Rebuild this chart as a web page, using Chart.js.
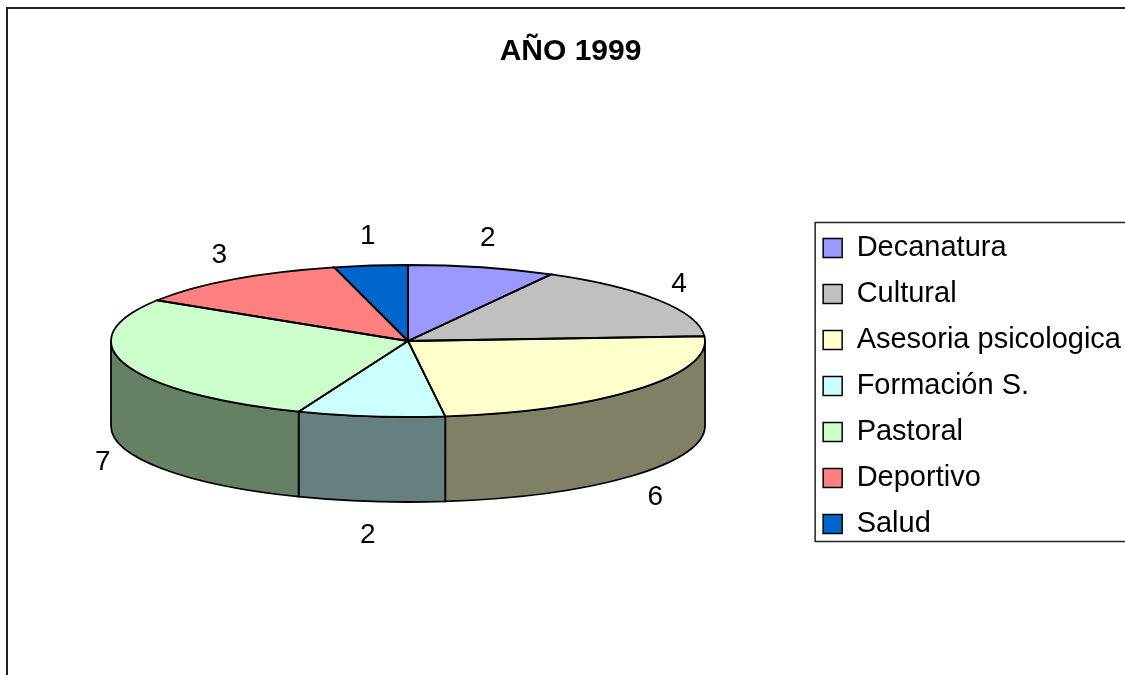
<!DOCTYPE html>
<html>
<head>
<meta charset="utf-8">
<script src="https://cdn.jsdelivr.net/npm/chart.js@4/dist/chart.umd.min.js"></script>
<style>
  html, body { margin: 0; padding: 0; background: #fff; }
</style>
</head>
<body>
<canvas id="grafico" width="1125" height="675"></canvas>
<script>
// datos del grafico
const categories = ["Decanatura", "Cultural", "Asesoria psicologica", "Formación S.", "Pastoral", "Deportivo", "Salud"];
const values = [2, 4, 6, 2, 7, 3, 1];
const colors = ["#9999FF", "#C0C0C0", "#FFFFCC", "#CCFFFF", "#CCFFCC", "#FF8080", "#0066CC"];
const sideColors = ["#4D4D80", "#606060", "#808066", "#668080", "#668066", "#804040", "#003366"];
const chartTitle = "AÑO 1999";

const FONT = "'Liberation Sans', Arial, sans-serif";

// elipse del pastel 3D
const pie3d = { cx: 408, cy: 341, rx: 297, ry: 76, depth: 85 };

const pie3dPlugin = {
  id: "pie3d",
  beforeDraw(chart) {
    const ctx = chart.ctx;
    ctx.save();
    ctx.strokeStyle = "#222";
    ctx.lineWidth = 2;
    ctx.strokeRect(7, 8, 1200, 700); // marco del area del grafico
    ctx.restore();
  },
  beforeDatasetsDraw(chart) {
    const ctx = chart.ctx;
    const arcs = chart.getDatasetMeta(0).data;
    const { cx, cy, rx, ry, depth } = pie3d;

    // caras laterales (solo la mitad de adelante)
    ctx.save();
    ctx.lineWidth = 1.8;
    ctx.strokeStyle = "#000";
    arcs.forEach((arc, i) => {
      const s = Math.max(arc.startAngle, 0);
      const e = Math.min(arc.endAngle, Math.PI);
      if (s >= e) return;
      ctx.beginPath();
      ctx.ellipse(cx, cy, rx, ry, 0, s, e);
      ctx.lineTo(cx + rx * Math.cos(e), cy + depth + ry * Math.sin(e));
      ctx.ellipse(cx, cy + depth, rx, ry, 0, e, s, true);
      ctx.closePath();
      ctx.fillStyle = sideColors[i];
      ctx.fill();
      ctx.stroke();
    });
    ctx.restore();

    // aplastar el pastel de Chart.js para la cara de arriba
    const a = arcs[0];
    ctx.save();
    ctx.translate(cx, cy);
    ctx.scale(rx / a.outerRadius, ry / a.outerRadius);
    ctx.translate(-a.x, -a.y);
  },
  afterDatasetsDraw(chart) {
    const ctx = chart.ctx;
    ctx.restore();
    const arcs = chart.getDatasetMeta(0).data;
    const { cx, cy, rx, ry, depth } = pie3d;

    // bordes de la cara de arriba
    ctx.save();
    ctx.lineWidth = 1.8;
    ctx.strokeStyle = "#000";
    arcs.forEach(arc => {
      ctx.beginPath();
      ctx.moveTo(cx, cy);
      ctx.ellipse(cx, cy, rx, ry, 0, arc.startAngle, arc.endAngle);
      ctx.closePath();
      ctx.stroke();
    });

    // etiquetas de valores
    ctx.fillStyle = "#000";
    ctx.font = "28px " + FONT;
    ctx.textAlign = "center";
    ctx.textBaseline = "middle";
    arcs.forEach((arc, i) => {
      const mid = (arc.startAngle + arc.endAngle) / 2;
      const x = cx + (rx + 24) * Math.cos(mid);
      let y = cy + (ry + 30) * Math.sin(mid);
      if (Math.sin(mid) > 0) y += depth + 4;
      ctx.fillText(String(values[i]), x, y);
    });
    ctx.restore();
  },
  afterDraw(chart) {
    // recuadro de la leyenda
    const hb = chart.legend.legendHitBoxes;
    if (!hb || !hb.length) return;
    const ctx = chart.ctx;
    const last = hb[hb.length - 1];
    const left = hb[0].left - 8;
    const top = hb[0].top - 11;
    const bottom = last.top + last.height + 3;
    ctx.save();
    ctx.strokeStyle = "#222";
    ctx.lineWidth = 1.5;
    ctx.strokeRect(left, top, 1200 - left, bottom - top);
    ctx.restore();
  }
};

Chart.defaults.color = "#000";
Chart.defaults.font.family = FONT;

const baseLabels = Chart.overrides.doughnut.plugins.legend.labels.generateLabels;

new Chart(document.getElementById("grafico"), {
  type: "pie",
  data: {
    labels: categories,
    datasets: [{
      data: values,
      backgroundColor: colors,
      borderWidth: 0,
      clip: false
    }]
  },
  options: {
    responsive: false,
    animation: false,
    devicePixelRatio: 1,
    events: [],
    layout: { padding: { left: 10, right: -6 } },
    plugins: {
      title: {
        display: true,
        text: chartTitle,
        color: "#000",
        font: { size: 30, weight: "bold", family: FONT },
        padding: { top: 34, bottom: 27 }
      },
      legend: {
        display: true,
        position: "right",
        fullSize: false,
        labels: {
          color: "#000",
          font: { size: 29, family: FONT },
          boxWidth: 19,
          boxHeight: 19,
          padding: 17,
          generateLabels(chart) {
            return baseLabels(chart).map(l => Object.assign(l, { strokeStyle: "#000", lineWidth: 1.5 }));
          }
        }
      },
      tooltip: { enabled: false }
    }
  },
  plugins: [pie3dPlugin]
});
</script>
</body>
</html>
